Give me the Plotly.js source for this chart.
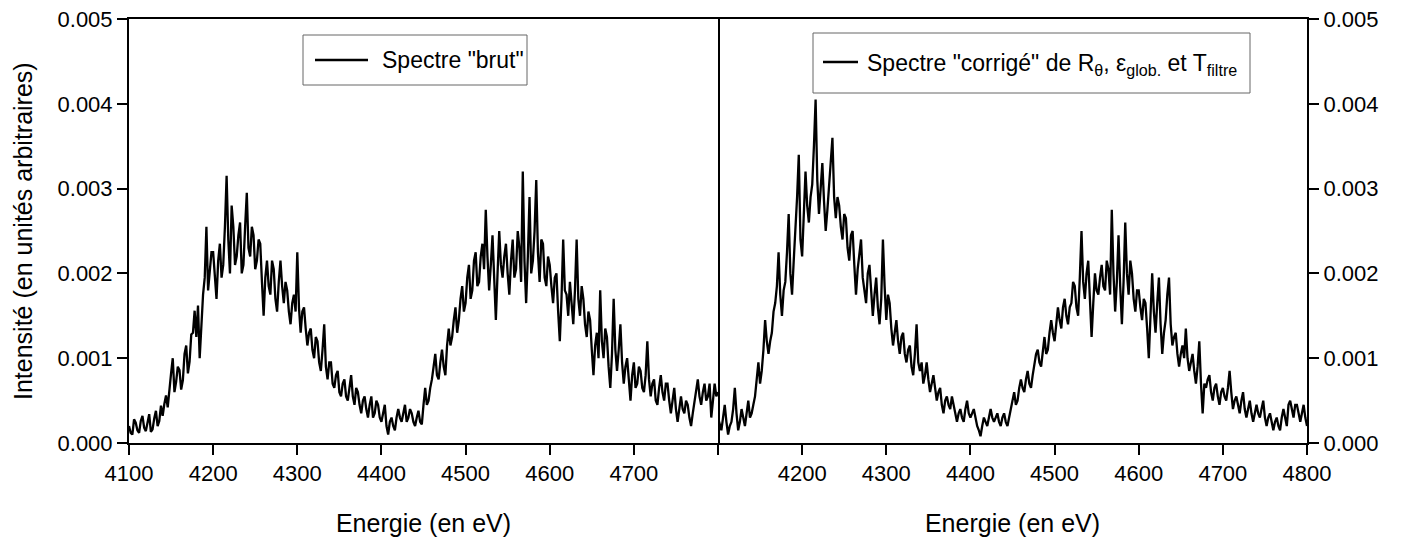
<!DOCTYPE html>
<html>
<head>
<meta charset="utf-8">
<script src="https://cdn.plot.ly/plotly-3.0.1.min.js"></script>
<style>html,body{margin:0;padding:0;background:#fff;}#chart{width:1404px;height:538px;}</style>
</head>
<body>
<div id="chart"></div>
<script>
// Energy grid of the spectra (eV), sampled every 2 eV from 4100 to 4800
const energyStart = 4100;
const energyStep = 2;

// Raw spectrum ("brut"), intensity in arbitrary units (one row = 20 eV)
const spectreBrut = [
  2.0e-4,1.2e-4,1.0e-4,2.8e-4,2.4e-4,1.5e-4,1.2e-4,2.6e-4,3.2e-4,1.8e-4,
  1.4e-4,2.5e-4,3.4e-4,1.3e-4,1.6e-4,2.9e-4,3.8e-4,2.0e-4,2.6e-4,4.4e-4,
  3.2e-4,4.6e-4,5.6e-4,4.2e-4,6.5e-4,8.2e-4,10.0e-4,6.0e-4,7.2e-4,9.0e-4,
  8.6e-4,6.3e-4,7.4e-4,10.5e-4,11.5e-4,8.2e-4,9.6e-4,12.8e-4,13.0e-4,15.6e-4,
  12.5e-4,16.2e-4,10.0e-4,14.0e-4,17.5e-4,19.5e-4,25.5e-4,18.0e-4,20.0e-4,22.5e-4,
  22.5e-4,19.0e-4,17.0e-4,21.5e-4,23.5e-4,19.5e-4,21.0e-4,25.5e-4,31.5e-4,24.0e-4,
  20.0e-4,28.0e-4,25.5e-4,21.0e-4,22.0e-4,24.5e-4,26.0e-4,20.0e-4,21.0e-4,25.5e-4,
  29.5e-4,23.0e-4,22.0e-4,25.5e-4,24.5e-4,20.5e-4,21.5e-4,24.0e-4,23.5e-4,19.0e-4,
  15.0e-4,19.5e-4,21.5e-4,18.5e-4,17.5e-4,21.5e-4,20.5e-4,17.0e-4,15.5e-4,19.0e-4,
  21.5e-4,18.5e-4,16.5e-4,19.0e-4,18.0e-4,15.5e-4,14.0e-4,16.5e-4,17.5e-4,15.5e-4,
  22.5e-4,16.0e-4,13.0e-4,15.5e-4,16.0e-4,13.5e-4,11.5e-4,13.0e-4,13.5e-4,11.0e-4,
  10.0e-4,12.5e-4,12.0e-4,9.5e-4,8.5e-4,11.0e-4,14.0e-4,9.0e-4,7.5e-4,9.5e-4,
  9.5e-4,7.0e-4,6.5e-4,8.0e-4,8.5e-4,6.0e-4,5.5e-4,7.0e-4,7.5e-4,5.5e-4,
  5.0e-4,6.5e-4,8.0e-4,5.5e-4,4.5e-4,6.5e-4,6.0e-4,4.5e-4,3.5e-4,5.0e-4,
  5.5e-4,4.0e-4,3.0e-4,4.5e-4,5.5e-4,3.0e-4,3.5e-4,5.0e-4,4.5e-4,3.0e-4,
  2.5e-4,3.5e-4,4.5e-4,2.0e-4,1.0e-4,2.5e-4,3.0e-4,2.0e-4,1.5e-4,3.0e-4,
  4.0e-4,3.0e-4,2.5e-4,3.5e-4,4.5e-4,2.5e-4,3.0e-4,4.0e-4,3.5e-4,2.5e-4,
  2.0e-4,3.0e-4,3.8e-4,2.5e-4,2.2e-4,4.5e-4,6.5e-4,4.5e-4,5.0e-4,6.5e-4,
  7.5e-4,9.0e-4,10.5e-4,8.0e-4,7.5e-4,9.5e-4,11.0e-4,9.0e-4,8.0e-4,11.5e-4,
  13.5e-4,11.5e-4,12.5e-4,14.5e-4,16.0e-4,13.0e-4,14.5e-4,17.0e-4,18.5e-4,15.5e-4,
  16.5e-4,19.5e-4,21.0e-4,17.0e-4,18.0e-4,21.5e-4,22.5e-4,18.5e-4,19.0e-4,22.0e-4,
  23.5e-4,20.5e-4,27.5e-4,22.0e-4,18.0e-4,21.0e-4,24.5e-4,19.5e-4,14.5e-4,20.0e-4,
  25.0e-4,21.0e-4,19.5e-4,22.0e-4,23.5e-4,20.0e-4,17.5e-4,21.5e-4,24.0e-4,19.5e-4,
  20.5e-4,25.0e-4,23.0e-4,19.0e-4,32.0e-4,21.5e-4,16.5e-4,22.0e-4,29.0e-4,20.0e-4,
  21.5e-4,25.0e-4,31.0e-4,22.5e-4,19.0e-4,24.0e-4,23.5e-4,19.5e-4,18.5e-4,22.0e-4,
  21.0e-4,18.5e-4,16.5e-4,19.5e-4,20.0e-4,15.5e-4,12.0e-4,17.0e-4,24.0e-4,18.0e-4,
  17.5e-4,15.0e-4,19.0e-4,16.5e-4,14.0e-4,18.0e-4,24.0e-4,17.0e-4,15.0e-4,18.5e-4,
  17.0e-4,14.0e-4,12.5e-4,15.5e-4,14.5e-4,11.0e-4,8.0e-4,11.5e-4,13.0e-4,10.0e-4,
  18.0e-4,12.0e-4,10.0e-4,13.5e-4,12.5e-4,9.0e-4,6.5e-4,10.5e-4,17.0e-4,11.0e-4,
  8.5e-4,11.0e-4,14.0e-4,9.5e-4,7.0e-4,9.0e-4,10.0e-4,7.5e-4,5.0e-4,8.0e-4,
  9.5e-4,6.5e-4,7.0e-4,9.0e-4,8.5e-4,6.5e-4,6.0e-4,8.0e-4,12.0e-4,7.5e-4,
  5.5e-4,7.0e-4,7.5e-4,5.0e-4,4.5e-4,6.5e-4,8.0e-4,6.0e-4,5.0e-4,7.0e-4,
  7.0e-4,5.0e-4,3.5e-4,5.0e-4,6.5e-4,4.0e-4,2.5e-4,4.0e-4,5.5e-4,4.0e-4,
  3.5e-4,5.0e-4,4.5e-4,3.0e-4,2.0e-4,3.5e-4,5.0e-4,6.0e-4,7.5e-4,5.5e-4,
  4.5e-4,6.0e-4,7.0e-4,5.0e-4,5.5e-4,7.0e-4,3.0e-4,5.0e-4,7.0e-4,5.5e-4,
  6.0e-4
];

// Corrected spectrum ("corrigé"), intensity in arbitrary units (one row = 20 eV)
const spectreCorrige = [
  3.0e-4,2.2e-4,1.5e-4,3.0e-4,4.5e-4,2.5e-4,1.0e-4,2.0e-4,2.5e-4,4.0e-4,
  6.5e-4,3.5e-4,1.5e-4,2.5e-4,4.0e-4,3.0e-4,2.0e-4,3.5e-4,5.0e-4,3.0e-4,
  3.5e-4,4.5e-4,5.5e-4,7.5e-4,9.5e-4,7.0e-4,8.5e-4,11.0e-4,14.5e-4,12.0e-4,
  10.5e-4,12.0e-4,13.0e-4,15.5e-4,16.5e-4,18.5e-4,22.5e-4,17.5e-4,15.0e-4,18.0e-4,
  19.0e-4,22.5e-4,27.0e-4,20.0e-4,17.5e-4,21.5e-4,25.0e-4,29.0e-4,34.0e-4,24.0e-4,
  22.0e-4,27.5e-4,32.0e-4,28.0e-4,26.0e-4,29.0e-4,30.5e-4,35.0e-4,40.5e-4,31.0e-4,
  27.0e-4,30.0e-4,33.0e-4,28.5e-4,25.0e-4,27.5e-4,30.5e-4,33.5e-4,36.0e-4,29.0e-4,
  26.5e-4,29.0e-4,28.0e-4,25.5e-4,24.0e-4,27.0e-4,26.5e-4,23.0e-4,21.5e-4,24.5e-4,
  25.0e-4,21.0e-4,17.5e-4,20.5e-4,22.5e-4,24.0e-4,19.5e-4,18.0e-4,16.5e-4,20.0e-4,
  21.0e-4,18.0e-4,15.0e-4,17.5e-4,19.5e-4,16.0e-4,14.0e-4,17.0e-4,24.0e-4,18.5e-4,
  14.5e-4,17.5e-4,16.5e-4,13.5e-4,11.5e-4,13.0e-4,14.5e-4,12.0e-4,10.5e-4,12.5e-4,
  13.0e-4,10.5e-4,9.5e-4,11.0e-4,11.5e-4,9.0e-4,8.0e-4,10.5e-4,14.0e-4,9.5e-4,
  8.5e-4,9.5e-4,7.0e-4,8.0e-4,9.5e-4,7.5e-4,6.0e-4,7.0e-4,8.0e-4,6.5e-4,
  5.0e-4,6.0e-4,6.5e-4,4.5e-4,3.5e-4,5.0e-4,5.5e-4,4.5e-4,4.0e-4,5.5e-4,
  4.5e-4,3.5e-4,2.5e-4,3.5e-4,4.0e-4,3.0e-4,2.5e-4,4.0e-4,5.0e-4,3.5e-4,
  3.0e-4,3.5e-4,4.0e-4,3.0e-4,2.0e-4,1.5e-4,0.8e-4,2.0e-4,3.0e-4,2.5e-4,
  2.0e-4,3.0e-4,4.0e-4,3.0e-4,2.5e-4,3.0e-4,3.5e-4,2.5e-4,2.0e-4,3.0e-4,
  3.5e-4,2.5e-4,2.0e-4,3.0e-4,4.0e-4,5.0e-4,6.0e-4,4.5e-4,5.0e-4,6.5e-4,
  7.5e-4,6.5e-4,6.0e-4,7.5e-4,8.5e-4,7.0e-4,6.5e-4,8.0e-4,9.5e-4,10.5e-4,
  11.0e-4,9.5e-4,9.0e-4,11.0e-4,12.5e-4,10.5e-4,11.0e-4,13.0e-4,14.5e-4,13.0e-4,
  12.0e-4,14.0e-4,16.0e-4,14.5e-4,13.5e-4,16.0e-4,17.0e-4,15.0e-4,14.0e-4,16.0e-4,
  16.5e-4,19.0e-4,18.5e-4,16.0e-4,15.0e-4,19.5e-4,25.0e-4,19.0e-4,17.0e-4,20.0e-4,
  21.5e-4,17.0e-4,12.5e-4,16.5e-4,20.0e-4,18.0e-4,17.5e-4,19.5e-4,21.0e-4,18.5e-4,
  18.0e-4,21.5e-4,20.5e-4,17.5e-4,27.5e-4,20.0e-4,15.5e-4,19.0e-4,24.5e-4,18.5e-4,
  14.0e-4,19.0e-4,26.0e-4,20.0e-4,17.5e-4,21.5e-4,20.0e-4,17.0e-4,15.5e-4,18.0e-4,
  18.0e-4,16.0e-4,14.5e-4,17.0e-4,16.5e-4,13.5e-4,10.0e-4,15.0e-4,20.0e-4,15.5e-4,
  13.0e-4,16.5e-4,19.5e-4,14.0e-4,10.5e-4,13.0e-4,14.5e-4,17.5e-4,19.5e-4,14.0e-4,
  11.5e-4,12.5e-4,13.0e-4,10.5e-4,9.0e-4,10.5e-4,11.5e-4,10.0e-4,13.5e-4,10.0e-4,
  8.5e-4,9.5e-4,10.5e-4,8.5e-4,7.0e-4,9.0e-4,12.0e-4,7.0e-4,3.5e-4,7.0e-4,
  6.5e-4,7.5e-4,8.0e-4,6.0e-4,5.0e-4,6.5e-4,7.0e-4,5.5e-4,4.5e-4,6.0e-4,
  6.5e-4,5.5e-4,5.0e-4,6.5e-4,8.5e-4,6.0e-4,4.0e-4,5.0e-4,5.5e-4,4.5e-4,
  3.5e-4,5.0e-4,6.0e-4,4.0e-4,3.0e-4,4.0e-4,5.0e-4,3.5e-4,2.5e-4,3.5e-4,
  4.5e-4,3.5e-4,3.0e-4,4.0e-4,5.0e-4,3.0e-4,2.0e-4,3.0e-4,3.5e-4,2.5e-4,
  1.5e-4,2.5e-4,3.0e-4,2.0e-4,1.5e-4,3.0e-4,4.0e-4,3.0e-4,2.0e-4,4.5e-4,
  5.0e-4,4.0e-4,3.0e-4,4.5e-4,4.5e-4,3.5e-4,2.5e-4,3.5e-4,4.5e-4,3.0e-4,
  2.0e-4
];

// Series names, titles and tick labels
const nameBrut = 'Spectre "brut"';
const nameCorrige = 'Spectre "corrigé" de R<sub>θ</sub>, ε<sub>glob.</sub> et T<sub>filtre</sub>';
const xTitle = "Energie (en eV)";
const yTitle = "Intensité (en unités arbitraires)";
const xTickValues = [4100, 4200, 4300, 4400, 4500, 4600, 4700, 4800];
const xTickTextLeft = ["4100", "4200", "4300", "4400", "4500", "4600", "4700", ""];
const xTickTextRight = ["", "4200", "4300", "4400", "4500", "4600", "4700", "4800"];
const yTickValues = [0, 0.001, 0.002, 0.003, 0.004, 0.005];

const energies = spectreBrut.map((_, i) => energyStart + i * energyStep);

const FONT = "Liberation Sans, Arial, sans-serif";

// plot area in pixels -> paper coordinates (for the boxed legends and y title)
const PL = 129, PR = 1307, PT = 19, PB = 443;
const px = v => (v - PL) / (PR - PL);
const py = v => (PB - v) / (PB - PT);

const traces = [
  {
    x: energies, y: spectreBrut, xaxis: "x", yaxis: "y",
    type: "scatter", mode: "lines",
    line: {color: "#000", width: 2.3},
    name: nameBrut
  },
  {
    x: energies, y: spectreCorrige, xaxis: "x2", yaxis: "y2",
    type: "scatter", mode: "lines",
    line: {color: "#000", width: 2.3},
    name: nameCorrige
  }
];

const axisCommon = {
  showgrid: false, zeroline: false,
  showline: true, linecolor: "#000", linewidth: 2,
  ticks: "outside", ticklen: 10, tickwidth: 2, tickcolor: "#000",
  tickfont: {family: FONT, size: 22, color: "#000"}
};

const legendBox = (x0, y0, x1, y1) => ({
  type: "rect", xref: "paper", yref: "paper",
  x0: px(x0), x1: px(x1), y0: py(y1), y1: py(y0),
  line: {color: "#666", width: 1}, fillcolor: "#fff", layer: "above"
});
const legendLine = (x0, x1, y) => ({
  type: "line", xref: "paper", yref: "paper",
  x0: px(x0), x1: px(x1), y0: py(y), y1: py(y),
  line: {color: "#000", width: 2.3}, layer: "above"
});

const layout = {
  width: 1404, height: 538,
  paper_bgcolor: "#fff", plot_bgcolor: "#fff",
  margin: {l: PL, r: 1404 - PR, t: PT, b: 538 - PB},
  showlegend: false,
  font: {family: FONT, color: "#000"},
  xaxis: Object.assign({}, axisCommon, {
    domain: [0, 0.5], range: [4100, 4800], anchor: "y", mirror: true,
    tickmode: "array", tickvals: xTickValues, ticktext: xTickTextLeft,
    title: {text: xTitle, font: {family: FONT, size: 25, color: "#000"}, standoff: 29}
  }),
  xaxis2: Object.assign({}, axisCommon, {
    domain: [0.5, 1], range: [4100, 4800], anchor: "y2", mirror: true,
    tickmode: "array", tickvals: xTickValues, ticktext: xTickTextRight,
    title: {text: xTitle, font: {family: FONT, size: 25, color: "#000"}, standoff: 29}
  }),
  yaxis: Object.assign({}, axisCommon, {
    domain: [0, 1], range: [0, 0.005], anchor: "x", mirror: true,
    tickmode: "array", tickvals: yTickValues, tickformat: ".3f"
  }),
  yaxis2: Object.assign({}, axisCommon, {
    domain: [0, 1], range: [0, 0.005], anchor: "x2", side: "right", mirror: false,
    tickmode: "array", tickvals: yTickValues, tickformat: ".3f"
  }),
  shapes: [
    legendBox(303, 35, 527, 85),
    legendLine(315, 368, 60),
    legendBox(813, 33, 1250, 93),
    legendLine(823, 858, 62)
  ],
  annotations: [
    {xref: "paper", yref: "paper", x: px(23), y: 0.5, xanchor: "center", yanchor: "middle",
     textangle: -90, text: yTitle, showarrow: false, font: {family: FONT, size: 25, color: "#000"}},
    {xref: "paper", yref: "paper", x: px(380), y: py(60), xanchor: "left", yanchor: "middle",
     text: nameBrut, showarrow: false, font: {family: FONT, size: 23, color: "#000"}},
    {xref: "paper", yref: "paper", x: px(865), y: py(64), xanchor: "left", yanchor: "middle",
     text: nameCorrige, showarrow: false, font: {family: FONT, size: 23, color: "#000"}}
  ]
};

Plotly.newPlot("chart", traces, layout, {displayModeBar: false, staticPlot: true});
</script>
</body>
</html>
